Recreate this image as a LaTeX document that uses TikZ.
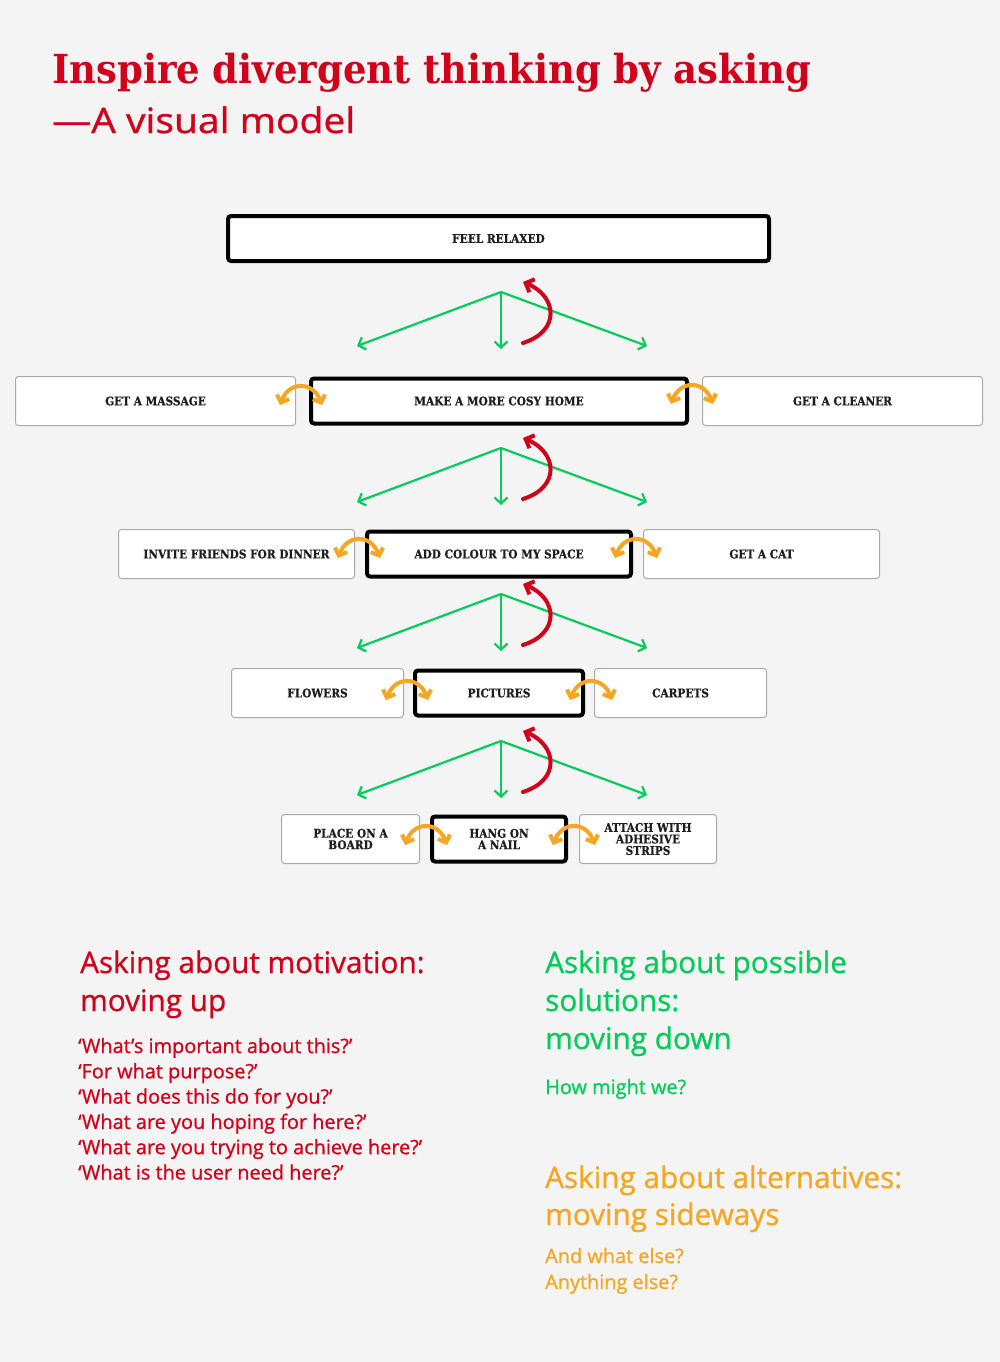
\documentclass[tikz,border=0pt]{standalone}
\usepackage{graphicx}
\usepackage{fontspec}
\setmainfont{Open Sans}[FakeBold=0.9]
\newfontfamily\slab[FakeStretch=0.88,FakeBold=0.4]{DejaVu Serif}
\newfontfamily\slabtitle{DejaVu Serif}
\usetikzlibrary{arrows.meta}
\definecolor{bg}{HTML}{F4F4F4}
\definecolor{myred}{HTML}{D0021B}
\definecolor{mygreen}{HTML}{00CC5A}
\definecolor{myorange}{HTML}{F5A623}
\definecolor{boxtxt}{HTML}{1E1E1E}
\definecolor{thinborder}{HTML}{AAAAAA}
\begin{document}
\begin{tikzpicture}[x=1pt,y=-1pt,
  box/.style={draw=thinborder, line width=1pt, fill=white, rounded corners=3pt,
    minimum height=49pt, inner sep=0pt, text=boxtxt, align=center,
    font=\slab\bfseries\fontsize{12}{11.5}\selectfont},
  mainbox/.style={box, draw=black, line width=4pt, minimum height=45pt},
  godown/.style={draw=mygreen, line width=2.2pt, -{Straight Barb[length=6pt,width=13pt]}},
  goup/.style={draw=myred, line width=4pt, line cap=round, -{Straight Barb[length=7pt,width=14pt]}},
  goside/.style={draw=myorange, line width=4pt, line cap=round,
    {Straight Barb[length=6pt,width=13pt]}-{Straight Barb[length=6pt,width=13pt]}},
  txt/.style={anchor=base west, inner sep=0pt},
  head/.style={txt, font=\fontsize{29.7}{29.7}\selectfont},
  body/.style={txt, font=\fontsize{19.9}{19.9}\selectfont},
]
\fill[bg] (0,0) rectangle (1000,1362);

% title
\node[txt, text=myred, font=\slabtitle\bfseries\fontsize{40}{40}\selectfont] (title) at (52,84)
  {\resizebox{759pt}{\height}{Inspire divergent thinking by asking}};
\node[txt, text=myred, font=\fontsize{35}{35}\selectfont] (subtitle) at (52,133)
  {\resizebox{303pt}{\height}{—A visual model}};

% boxes
\node[mainbox, minimum width=541pt] (feel) at (498.5,238.5) {FEEL RELAXED};

\node[box, minimum width=280pt] (massage) at (155.5,401) {GET A MASSAGE};
\node[mainbox, minimum width=376pt] (cosy) at (499,401) {MAKE A MORE COSY HOME};
\node[box, minimum width=280pt] (cleaner) at (842.5,401) {GET A CLEANER};

\node[box, minimum width=236pt] (invite) at (236.5,554) {INVITE FRIENDS FOR DINNER};
\node[mainbox, minimum width=264pt] (colour) at (499,554) {ADD COLOUR TO MY SPACE};
\node[box, minimum width=236pt] (cat) at (761.5,554) {GET A CAT};

\node[box, minimum width=172pt] (flowers) at (317.5,693) {FLOWERS};
\node[mainbox, minimum width=168pt] (pictures) at (499,693) {PICTURES};
\node[box, minimum width=172pt] (carpets) at (680.5,693) {CARPETS};

\node[box, minimum width=138pt] (board) at (350.5,839) {PLACE ON A\\BOARD};
\node[mainbox, minimum width=134pt] (nail) at (499,839) {HANG ON\\A NAIL};
\node[box, minimum width=137pt] (strips) at (648,839) {ATTACH WITH\\ADHESIVE\\STRIPS};

% down / up arrows between levels
\foreach \i/\ay in {1/292,2/448,3/594,4/741} {
  \coordinate (ap\i) at (501,\ay);
  \coordinate (dl\i) at (357,\ay+54);
  \coordinate (dm\i) at (501,\ay+57);
  \coordinate (dr\i) at (647,\ay+54);
  \coordinate (rb\i) at (523,\ay+51);
  \coordinate (rt\i) at (523,\ay-10);
  \draw[godown] (ap\i) -- (dl\i);
  \draw[godown] (ap\i) -- (dm\i);
  \draw[godown] (ap\i) -- (dr\i);
  \draw[goup] (rb\i) .. controls +(38,-12) and +(34,14) .. (rt\i);
}

% sideways arrows
\foreach \j/\cx/\cy in {1/301/405,2/692/404,3/359/558,4/636/558,5/407/700,6/591/700,7/426/845,8/574/845} {
  \coordinate (sl\j) at (\cx-21,\cy);
  \coordinate (sr\j) at (\cx+21,\cy);
  \draw[goside] (sl\j) .. controls +(9,-24) and +(-9,-24) .. (sr\j);
}

% legend: motivation
\node[head, text=myred] (mot1) at (80,973) {Asking about motivation:};
\node[head, text=myred] (mot2) at (80,1011) {moving up};
\foreach \k/\q in {0/{‘What’s important about this?’},1/{‘For what purpose?’},2/{‘What does this do for you?’},3/{‘What are you hoping for here?’},4/{‘What are you trying to achieve here?’},5/{‘What is the user need here?’}} {
  \node[body, text=myred] (motq\k) at (78,1053+25.3*\k) {\q};
}

% legend: solutions
\node[head, text=mygreen] (sol1) at (545,973) {Asking about possible};
\node[head, text=mygreen] (sol2) at (545,1011) {solutions:};
\node[head, text=mygreen] (sol3) at (545,1049) {moving down};
\node[body, text=mygreen] (solq) at (545,1094) {How might we?};

% legend: alternatives
\node[head, text=myorange] (alt1) at (545,1188) {Asking about alternatives:};
\node[head, text=myorange] (alt2) at (545,1225) {moving sideways};
\node[body, text=myorange] (altq1) at (545,1263) {And what else?};
\node[body, text=myorange] (altq2) at (545,1289) {Anything else?};
\end{tikzpicture}
\end{document}
